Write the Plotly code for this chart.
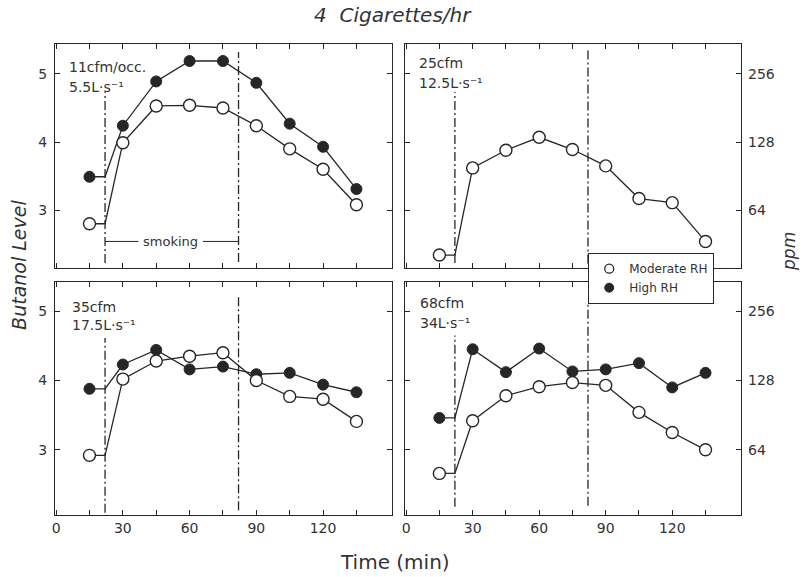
import math
import plotly.graph_objects as go

# Sampling times (min) and smoking period
times = [15, 30, 45, 60, 75, 90, 105, 120, 135]
smoke_start = 22
smoke_end = 82

# Butanol level (log2 scale; level 3 = 64 ppm, 4 = 128 ppm, 5 = 256 ppm)
cfm11_moderate = [2.80, 3.99, 4.53, 4.54, 4.50, 4.24, 3.90, 3.60, 3.08]
cfm11_high = [3.49, 4.24, 4.89, 5.19, 5.19, 4.87, 4.27, 3.93, 3.31]
cfm25_moderate = [2.34, 3.62, 3.88, 4.07, 3.89, 3.65, 3.17, 3.11, 2.54]
cfm35_moderate = [2.92, 4.02, 4.28, 4.35, 4.40, 4.00, 3.77, 3.73, 3.41]
cfm35_high = [3.88, 4.23, 4.44, 4.16, 4.20, 4.09, 4.11, 3.94, 3.83]
cfm68_moderate = [2.66, 3.42, 3.78, 3.91, 3.97, 3.93, 3.54, 3.25, 3.00]
cfm68_high = [3.46, 4.45, 4.12, 4.46, 4.13, 4.16, 4.25, 3.90, 4.11]

level_ticks = [3, 4, 5]
ppm_ticks = [64, 128, 256]
x_major_ticks = [0, 30, 60, 90, 120]
x_minor_ticks = [15, 45, 75, 105, 135]

panel_labels = [
    ("11cfm/occ.", "5.5L·s⁻¹"),
    ("25cfm", "12.5L·s⁻¹"),
    ("35cfm", "17.5L·s⁻¹"),
    ("68cfm", "34L·s⁻¹"),
]
series_by_panel = [
    (cfm11_moderate, cfm11_high),
    (cfm25_moderate, None),
    (cfm35_moderate, cfm35_high),
    (cfm68_moderate, cfm68_high),
]

INK = "#262626"
TEXT = "#333333"
FONT = "DejaVu Sans"
top_range = [2.15, 5.44]
bottom_range = [2.06, 5.42]
x_range = [-0.5, 151]

fig = go.Figure()


def connector(values):
    # level before smoking is held flat until the first cigarette is lit
    return [times[0], smoke_start] + times[1:], [values[0], values[0]] + values[1:]


for i, (moderate, high) in enumerate(series_by_panel):
    xa = "x" if i == 0 else f"x{i + 1}"
    ya = "y" if i == 0 else f"y{i + 1}"
    for vals in (moderate, high):
        if vals is None:
            continue
        lx, ly = connector(vals)
        fig.add_trace(go.Scatter(x=lx, y=ly, mode="lines", xaxis=xa, yaxis=ya,
                                 line=dict(color=INK, width=1.3),
                                 showlegend=False, hoverinfo="skip"))
    if high is not None:
        fig.add_trace(go.Scatter(x=times, y=high, mode="markers", xaxis=xa, yaxis=ya,
                                 marker=dict(symbol="circle", size=11, color=INK,
                                             line=dict(color=INK, width=1)),
                                 showlegend=False))
    fig.add_trace(go.Scatter(x=times, y=moderate, mode="markers", xaxis=xa, yaxis=ya,
                             marker=dict(symbol="circle", size=12, color="white",
                                         line=dict(color=INK, width=1.4)),
                             showlegend=False))

# ppm scale carriers for the right-hand panels (no visible marks)
for xa, ya in (("x2", "y5"), ("x4", "y6")):
    fig.add_trace(go.Scatter(x=[None], y=[None], mode="markers", xaxis=xa, yaxis=ya,
                             showlegend=False, hoverinfo="skip"))

# legend entries
fig.add_trace(go.Scatter(x=[None], y=[None], mode="markers", name="Moderate RH",
                         marker=dict(symbol="circle", size=9, color="white",
                                     line=dict(color=INK, width=1.3))))
fig.add_trace(go.Scatter(x=[None], y=[None], mode="markers", name="High RH",
                         marker=dict(symbol="circle", size=9, color=INK,
                                     line=dict(color=INK, width=1))))

x_domains = [[0, 0.4913], [0.5102, 1], [0, 0.4913], [0.5102, 1]]
y_domains = [[0.5244, 1], [0.5244, 1], [0, 0.4947], [0, 0.4947]]
y_ranges = [top_range, top_range, bottom_range, bottom_range]

axis_common = dict(showline=True, linecolor=INK, linewidth=1.3, mirror="allticks",
                   ticks="inside", ticklen=5, tickwidth=1.2, tickcolor=INK,
                   showgrid=False, zeroline=False,
                   tickfont=dict(family=FONT, size=14, color=TEXT))

layout = {}
for i in range(4):
    xk = "xaxis" if i == 0 else f"xaxis{i + 1}"
    yk = "yaxis" if i == 0 else f"yaxis{i + 1}"
    layout[xk] = dict(axis_common, domain=x_domains[i], range=x_range,
                      anchor="y" if i == 0 else f"y{i + 1}",
                      tickvals=x_major_ticks,
                      minor=dict(tickvals=x_minor_ticks, ticks="inside", ticklen=5,
                                 tickwidth=1.2, tickcolor=INK, showgrid=False),
                      showticklabels=i >= 2)
    layout[yk] = dict(axis_common, domain=y_domains[i], range=y_ranges[i],
                      anchor="x" if i == 0 else f"x{i + 1}",
                      tickvals=level_ticks, showticklabels=i in (0, 2),
                      ticklabelstandoff=4)

# ppm axes on the right-hand panels (ppm = 2^(level + 3))
for k, base in ((5, 2), (6, 4)):
    lo, hi = y_ranges[base - 1]
    layout[f"yaxis{k}"] = dict(overlaying=f"y{base}", side="right", anchor=f"x{base}",
                               type="log",
                               range=[(lo + 3) * math.log10(2), (hi + 3) * math.log10(2)],
                               tickvals=ppm_ticks, ticktext=[str(t) for t in ppm_ticks],
                               ticks="", showline=False, showgrid=False, zeroline=False,
                               ticklabelstandoff=6,
                               tickfont=dict(family=FONT, size=14, color=TEXT))

fig.update_layout(**layout)

# smoking period markers (dash-dot verticals)
dash_spans = [
    ((0.022, 0.786), (0.027, 0.964)),
    ((0.022, 0.786), (0.020, 0.980)),
    ((0.010, 0.760), (0.020, 0.936)),
    ((0.035, 0.770), (0.040, 0.914)),
]
shapes = []
for i, (s_span, e_span) in enumerate(dash_spans):
    xa = "x" if i == 0 else f"x{i + 1}"
    ydom = "y domain" if i == 0 else f"y{i + 1} domain"
    for xv, span in ((smoke_start, s_span), (smoke_end, e_span)):
        shapes.append(dict(type="line", xref=xa, yref=ydom, x0=xv, x1=xv,
                           y0=span[0], y1=span[1],
                           line=dict(color=INK, width=1.3, dash="9px,3px,2px,3px")))

# "smoking" bracket in the first panel
smoke_label_y = 2.54
shapes.append(dict(type="line", xref="x", yref="y", x0=smoke_start, x1=37,
                   y0=smoke_label_y, y1=smoke_label_y, line=dict(color=INK, width=1)))
shapes.append(dict(type="line", xref="x", yref="y", x0=66, x1=smoke_end,
                   y0=smoke_label_y, y1=smoke_label_y, line=dict(color=INK, width=1)))

annotations = []
annotations.append(dict(x=51.5, y=smoke_label_y, xref="x", yref="y", text="smoking",
                        showarrow=False, font=dict(family=FONT, size=13, color=TEXT)))

label_pos = [
    (0.036, 0.897, 0.808),
    (0.036, 0.915, 0.826),
    (0.045, 0.893, 0.815),
    (0.039, 0.910, 0.824),
]
for i, ((l1, l2), (lx, y1, y2)) in enumerate(zip(panel_labels, label_pos)):
    xd = "x domain" if i == 0 else f"x{i + 1} domain"
    yd = "y domain" if i == 0 else f"y{i + 1} domain"
    for txt, yy in ((l1, y1), (l2, y2)):
        annotations.append(dict(x=lx, y=yy, xref=xd, yref=yd, text=txt, showarrow=False,
                                xanchor="left", yanchor="middle",
                                font=dict(family=FONT, size=14, color=TEXT)))

annotations += [
    dict(x=0.493, y=1.0616, xref="paper", yref="paper", text="<i>4  Cigarettes/hr</i>",
         xanchor="center", yanchor="middle",
         showarrow=False, font=dict(family=FONT, size=20, color=TEXT)),
    dict(x=-0.0525, y=0.531, xref="paper", yref="paper", text="<i>Butanol Level</i>",
         xanchor="center", yanchor="middle",
         textangle=-90, showarrow=False, font=dict(family=FONT, size=19, color=TEXT)),
    dict(x=1.071, y=0.56, xref="paper", yref="paper", text="<i>ppm</i>",
         xanchor="center", yanchor="middle",
         textangle=-90, showarrow=False, font=dict(family=FONT, size=17, color=TEXT)),
    dict(x=0.4956, y=-0.0998, xref="paper", yref="paper", text="Time (min)",
         xanchor="center", yanchor="middle",
         showarrow=False, font=dict(family=FONT, size=20, color=TEXT)),
]

fig.update_layout(
    width=806, height=577,
    margin=dict(l=55, r=65, t=44, b=62),
    paper_bgcolor="white", plot_bgcolor="white",
    shapes=shapes, annotations=annotations,
    showlegend=True,
    legend=dict(x=0.777, y=0.5563, xanchor="left", yanchor="top",
                bgcolor="white", bordercolor=INK, borderwidth=1.2,
                font=dict(family=FONT, size=12, color=TEXT),
                itemwidth=30, tracegroupgap=0),
)

fig.write_html("out.html")
